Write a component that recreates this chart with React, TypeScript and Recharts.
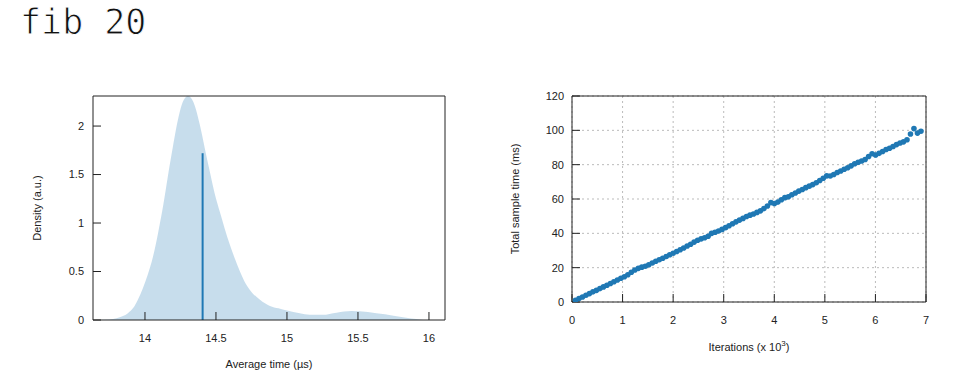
import React from "react"
import {
  ComposedChart,
  Area,
  XAxis,
  YAxis,
  ReferenceLine,
  ScatterChart,
  Scatter,
  CartesianGrid,
  Label,
} from "recharts"

// density estimate (left panel)
const densityX = [
  13.67, 13.75, 13.8, 13.845, 13.88, 13.915, 13.95, 13.986, 14.02, 14.056, 14.09, 14.127, 14.16, 14.197, 14.244,
  14.27, 14.303, 14.34, 14.385, 14.42, 14.458, 14.49, 14.528, 14.56, 14.599, 14.63, 14.669, 14.7, 14.739, 14.81,
  14.88, 14.94, 15.0, 15.09, 15.16, 15.25, 15.35, 15.456, 15.51, 15.63, 15.75, 15.84, 15.91, 15.96,
]
const densityY = [
  0, 0.005, 0.018, 0.04, 0.07, 0.12, 0.21, 0.33, 0.47, 0.65, 0.88, 1.17, 1.47, 1.79, 2.14,
  2.26, 2.31, 2.25, 2.02, 1.78, 1.52, 1.31, 1.11, 0.95, 0.77, 0.645, 0.5, 0.4, 0.31, 0.21,
  0.145, 0.12, 0.097, 0.069, 0.054, 0.054, 0.076, 0.093, 0.089, 0.069, 0.045, 0.024, 0.01, 0,
]
const MEAN_TIME = 14.406
const MEAN_DENSITY = 1.72
const densityXDomain = [13.634, 16.113]
const densityYDomain = [0, 2.31]
const densityXTicks = [14, 14.5, 15, 15.5, 16]
const densityYTicks = [0, 0.5, 1, 1.5, 2]

// linear regression samples (right panel)
const iterations = [
  69, 138, 207, 276, 345, 414, 483, 552, 621, 690, 759, 828, 897, 966, 1035, 1104, 1173, 1242, 1311, 1380,
  1449, 1518, 1587, 1656, 1725, 1794, 1863, 1932, 2001, 2070, 2139, 2208, 2277, 2346, 2415, 2484, 2553, 2622, 2691, 2760,
  2829, 2898, 2967, 3036, 3105, 3174, 3243, 3312, 3381, 3450, 3519, 3588, 3657, 3726, 3795, 3864, 3933, 4002, 4071, 4140,
  4209, 4278, 4347, 4416, 4485, 4554, 4623, 4692, 4761, 4830, 4899, 4968, 5037, 5106, 5175, 5244, 5313, 5382, 5451, 5520,
  5589, 5658, 5727, 5796, 5865, 5934, 6003, 6072, 6141, 6210, 6279, 6348, 6417, 6486, 6555, 6624, 6693, 6762, 6831, 6900,
]
const sampleTimes = [
  1.0, 2.0, 2.9, 3.9, 4.9, 5.9, 6.8, 7.8, 8.8, 9.8, 10.8, 11.8, 12.8, 13.8, 14.7, 15.9, 17.3, 18.6, 19.6, 20.3,
  20.8, 21.7, 22.7, 23.7, 24.6, 25.5, 26.5, 27.5, 28.4, 29.4, 30.4, 31.5, 32.6, 33.6, 34.9, 36.0, 36.8, 37.4, 38.3, 40.0,
  40.6, 41.4, 42.3, 43.3, 44.4, 45.6, 46.7, 47.7, 48.7, 49.8, 50.6, 51.3, 52.2, 53.1, 54.4, 55.9, 57.9, 57.4, 58.2, 59.6,
  60.8, 61.3, 62.5, 63.5, 64.6, 65.5, 66.6, 67.5, 68.4, 69.5, 70.8, 72.1, 73.5, 73.4, 74.3, 75.4, 76.3, 77.3, 78.2, 79.3,
  80.5, 81.4, 82.1, 83.0, 84.8, 86.4, 85.6, 86.6, 87.7, 88.8, 89.6, 90.6, 91.7, 92.6, 93.3, 94.5, 97.9, 101.0, 98.4, 99.5,
]
const iterDomain = [0, 7]
const timeDomain = [0, 120]
const iterTicks = [0, 1, 2, 3, 4, 5, 6, 7]
const timeTicks = [0, 20, 40, 60, 80, 100, 120]

const BLUE = "#1f78b4"
const INK = "#222"
const FONT = "'Liberation Sans', Arial, sans-serif"
const tickStyle = { fontSize: 11, fill: INK, fontFamily: FONT }
const labelStyle = { fontSize: 11, fill: INK, fontFamily: FONT }

const density = densityX.map((x, i) => ({ x, y: densityY[i] }))
const samples = iterations.map((n, i) => ({ x: n / 1000, y: sampleTimes[i] }))

function IterLabel(props: any) {
  const vb = props.viewBox || {}
  const x = vb.x + vb.width / 2
  const y = vb.y + vb.height - props.offset
  return (
    <text x={x} y={y} textAnchor="middle" fontSize={11} fill={INK} fontFamily={FONT}>
      Iterations (x 10
      <tspan dy={-5} fontSize={8}>3</tspan>
      <tspan dy={5}>)</tspan>
    </text>
  )
}

export default function App() {
  return (
    <div style={{ position: "absolute", left: 0, top: 0, width: 958, height: 391, background: "#fff" }}>
      <div
        style={{
          position: "absolute",
          left: 20,
          top: 5,
          fontFamily: "'DejaVu Sans Mono', monospace",
          fontSize: 35,
          lineHeight: "35px",
          color: "#111",
          WebkitTextStroke: "0.9px #fff",
        }}
      >
        fib 20
      </div>

      <div style={{ position: "absolute", left: 0, top: 0 }}>
        <ComposedChart width={470} height={391} data={density} margin={{ top: 96, right: 25, bottom: 0, left: 0 }}>
          <XAxis
            dataKey="x"
            type="number"
            domain={densityXDomain}
            allowDataOverflow
            ticks={densityXTicks}
            height={71}
            tickSize={-8}
            tickMargin={22}
            tick={tickStyle}
            stroke={INK}
          >
            <Label value="Average time (µs)" position="insideBottom" offset={23} style={labelStyle} />
          </XAxis>
          <YAxis
            type="number"
            domain={densityYDomain}
            allowDataOverflow
            ticks={densityYTicks}
            width={93}
            tickSize={-8}
            tickMargin={17}
            tick={tickStyle}
            stroke={INK}
          >
            <Label
              value="Density (a.u.)"
              angle={-90}
              position="insideLeft"
              offset={37}
              style={{ ...labelStyle, textAnchor: "middle" }}
            />
          </YAxis>
          <Area type="monotone" dataKey="y" fill={BLUE} fillOpacity={0.25} stroke="none" isAnimationActive={false} />
          <ReferenceLine
            segment={[
              { x: MEAN_TIME, y: 0 },
              { x: MEAN_TIME, y: MEAN_DENSITY },
            ]}
            stroke={BLUE}
            strokeWidth={2}
          />
          <ReferenceLine y={densityYDomain[1]} stroke={INK} ifOverflow="visible" />
          <ReferenceLine x={densityXDomain[1]} stroke={INK} ifOverflow="visible" />
        </ComposedChart>
      </div>

      <div style={{ position: "absolute", left: 480, top: 0 }}>
        <ScatterChart width={478} height={391} margin={{ top: 96, right: 32, bottom: 0, left: 0 }}>
          <CartesianGrid stroke="#bbb" strokeDasharray="2 3" />
          <XAxis
            dataKey="x"
            type="number"
            domain={iterDomain}
            allowDataOverflow
            ticks={iterTicks}
            height={89}
            tickSize={-8}
            tickMargin={22}
            tick={tickStyle}
            stroke={INK}
          >
            <Label position="insideBottom" offset={40} content={IterLabel} />
          </XAxis>
          <YAxis
            dataKey="y"
            type="number"
            domain={timeDomain}
            allowDataOverflow
            ticks={timeTicks}
            width={92}
            tickSize={-8}
            tickMargin={16}
            tick={tickStyle}
            stroke={INK}
          >
            <Label
              value="Total sample time (ms)"
              angle={-90}
              position="insideLeft"
              offset={35}
              style={{ ...labelStyle, textAnchor: "middle" }}
            />
          </YAxis>
          <ReferenceLine y={timeDomain[1]} stroke={INK} ifOverflow="visible" />
          <ReferenceLine x={iterDomain[1]} stroke={INK} ifOverflow="visible" />
          <Scatter
            data={samples}
            fill={BLUE}
            isAnimationActive={false}
            shape={(p: any) => <circle cx={p.cx} cy={p.cy} r={2.8} fill={BLUE} />}
          />
        </ScatterChart>
      </div>
    </div>
  )
}
